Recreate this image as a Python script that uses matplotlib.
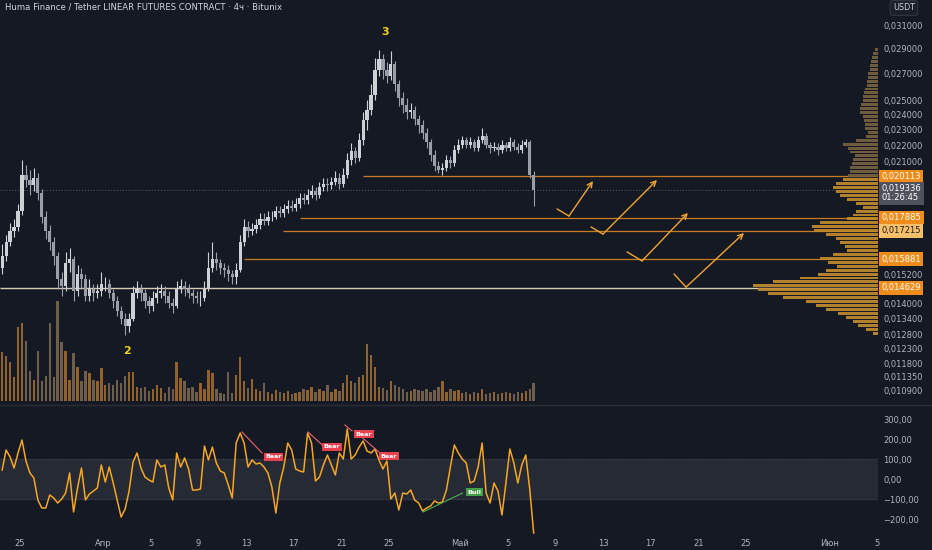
import numpy as np
import matplotlib
matplotlib.use("Agg")
import matplotlib.pyplot as plt
from matplotlib.ticker import NullLocator
from matplotlib.transforms import blended_transform_factory as btf

title = "Huma Finance / Tether LINEAR FUTURES CONTRACT · 4ч · Bitunix"

first_open = 0.0155
closes = [0.0160, 0.0167, 0.0172, 0.0174, 0.0182, 0.0202, 0.0199, 0.0196, 0.0200, 0.0192,
          0.0179, 0.0172, 0.0167, 0.0160, 0.0150, 0.0147, 0.0157, 0.0159, 0.0145, 0.0152,
          0.0150, 0.0143, 0.0146, 0.0144, 0.0145, 0.0148, 0.0148, 0.0144, 0.0141, 0.0137,
          0.0134, 0.0131, 0.0134, 0.0144, 0.0146, 0.0144, 0.0141, 0.0139, 0.0142, 0.0144,
          0.0145, 0.0143, 0.0140, 0.0139, 0.0146, 0.0147, 0.0146, 0.0144, 0.0143, 0.0142,
          0.0142, 0.0146, 0.0155, 0.0159, 0.0157, 0.0155, 0.0154, 0.0152, 0.0151, 0.0154,
          0.0167, 0.0174, 0.0172, 0.0173, 0.0175, 0.0178, 0.0177, 0.0179, 0.0179, 0.0182,
          0.0181, 0.0183, 0.0185, 0.0184, 0.0186, 0.0189, 0.0188, 0.0191, 0.0193, 0.0191,
          0.0195, 0.0197, 0.0196, 0.0198, 0.0200, 0.0197, 0.0202, 0.0211, 0.0216, 0.0212,
          0.0223, 0.0236, 0.0243, 0.0254, 0.0273, 0.0281, 0.0273, 0.0268, 0.0277, 0.0262,
          0.0252, 0.0247, 0.0242, 0.0243, 0.0237, 0.0233, 0.0228, 0.0222, 0.0214, 0.0207,
          0.0205, 0.0206, 0.0211, 0.0209, 0.0217, 0.0220, 0.0223, 0.0220, 0.0222, 0.0218,
          0.0223, 0.0226, 0.0220, 0.0218, 0.0219, 0.0217, 0.0220, 0.0218, 0.0222, 0.0219,
          0.0217, 0.0220, 0.0222, 0.0202, 0.019336]
highs = [0.0166, 0.0170, 0.0176, 0.0178, 0.0186, 0.0211, 0.0208, 0.0205, 0.0206, 0.0203,
         0.0194, 0.0182, 0.0175, 0.0169, 0.0162, 0.0153, 0.0162, 0.0164, 0.0160, 0.0156,
         0.0155, 0.0152, 0.0150, 0.0148, 0.0148, 0.0153, 0.0151, 0.0150, 0.0146, 0.0143,
         0.0139, 0.0136, 0.0136, 0.0147, 0.0149, 0.0148, 0.0146, 0.0143, 0.0145, 0.0147,
         0.0148, 0.0147, 0.0145, 0.0142, 0.0149, 0.0150, 0.0149, 0.0148, 0.0146, 0.0145,
         0.0145, 0.0149, 0.0162, 0.0167, 0.0162, 0.0159, 0.0157, 0.0156, 0.0154, 0.0157,
         0.0170, 0.0178, 0.0177, 0.0176, 0.0178, 0.0181, 0.0181, 0.0182, 0.0182, 0.0185,
         0.0185, 0.0186, 0.0188, 0.0188, 0.0189, 0.0192, 0.0192, 0.0194, 0.0196, 0.0195,
         0.0198, 0.0200, 0.0200, 0.0201, 0.0204, 0.0203, 0.0206, 0.0215, 0.0221, 0.0219,
         0.0228, 0.0242, 0.0250, 0.0262, 0.0282, 0.0289, 0.0285, 0.0279, 0.0288, 0.0280,
         0.0265, 0.0256, 0.0252, 0.0248, 0.0246, 0.0240, 0.0236, 0.0231, 0.0224, 0.0217,
         0.0210, 0.0209, 0.0214, 0.0213, 0.0220, 0.0224, 0.0226, 0.0225, 0.0225, 0.0224,
         0.0226, 0.0231, 0.0228, 0.0222, 0.0222, 0.0221, 0.0223, 0.0222, 0.0225, 0.0224,
         0.0221, 0.0223, 0.0224, 0.0223, 0.0204]
lows = [0.0152, 0.0158, 0.0165, 0.0169, 0.0172, 0.0180, 0.0195, 0.0191, 0.0193, 0.0188,
        0.0176, 0.0168, 0.0163, 0.0156, 0.0146, 0.0143, 0.0145, 0.0153, 0.0141, 0.0143,
        0.0146, 0.0141, 0.0141, 0.0141, 0.0142, 0.0143, 0.0145, 0.0142, 0.0138, 0.0135,
        0.0132, 0.0128, 0.0129, 0.0133, 0.0142, 0.0141, 0.0138, 0.0136, 0.0137, 0.0140,
        0.0142, 0.0140, 0.0138, 0.0136, 0.0138, 0.0144, 0.0143, 0.0142, 0.0140, 0.0140,
        0.0139, 0.0141, 0.0145, 0.0153, 0.0154, 0.0152, 0.0151, 0.0149, 0.0148, 0.0148,
        0.0153, 0.0165, 0.0169, 0.0170, 0.0171, 0.0173, 0.0175, 0.0175, 0.0177, 0.0178,
        0.0179, 0.0179, 0.0181, 0.0182, 0.0182, 0.0184, 0.0186, 0.0186, 0.0189, 0.0188,
        0.0189, 0.0193, 0.0193, 0.0194, 0.0196, 0.0194, 0.0195, 0.0200, 0.0208, 0.0209,
        0.0210, 0.0220, 0.0230, 0.0240, 0.0250, 0.0268, 0.0266, 0.0263, 0.0265, 0.0257,
        0.0246, 0.0241, 0.0237, 0.0238, 0.0233, 0.0228, 0.0224, 0.0218, 0.0210, 0.0204,
        0.0203, 0.0202, 0.0204, 0.0206, 0.0207, 0.0215, 0.0218, 0.0218, 0.0218, 0.0216,
        0.0216, 0.0221, 0.0218, 0.0215, 0.0216, 0.0214, 0.0215, 0.0216, 0.0216, 0.0217,
        0.0215, 0.0215, 0.0219, 0.0200, 0.0185]
volumes = [49, 45, 39, 24, 75, 79, 61, 30, 21, 50,
           20, 25, 79, 24, 101, 60, 51, 21, 48, 34,
           20, 30, 28, 21, 20, 33, 16, 18, 16, 21,
           18, 25, 29, 29, 14, 13, 14, 10, 12, 16,
           13, 8, 14, 12, 39, 23, 20, 13, 14, 9,
           18, 12, 31, 28, 12, 8, 7, 29, 8, 26,
           44, 20, 13, 22, 12, 10, 18, 9, 7, 11,
           9, 8, 10, 7, 8, 9, 12, 11, 14, 9,
           12, 10, 16, 9, 12, 10, 18, 26, 20, 18,
           24, 26, 58, 46, 34, 14, 13, 11, 20, 16,
           14, 12, 9, 10, 12, 11, 10, 12, 9, 11,
           14, 20, 9, 12, 10, 11, 8, 9, 7, 9,
           8, 12, 7, 8, 9, 7, 8, 9, 8, 7,
           9, 8, 10, 12, 18]
cci = [45, 145, 110, 55, 130, 195, 90, 30, 5, -105,
       -145, -145, -80, -95, -120, -100, -70, 30, -165, -45,
       55, -105, -75, -60, -45, 70, -15, 60, -20, -105,
       -190, -150, -60, 85, 130, 55, 10, -5, -15, 95,
       60, 70, -45, -105, 130, 60, 105, 50, -55, -55,
       -50, 165, 95, 160, 80, 40, 30, -30, -95, 180,
       230, 180, 60, 95, 75, 80, 60, 30, -40, -170,
       -20, 60, 180, 145, 50, 40, 35, 230, 180, -10,
       10, 70, 120, 70, 20, 130, 100, 250, 100, 120,
       160, 190, 140, 130, 150, 95, 50, 90, -100, -70,
       -155, -70, -75, -55, -105, -120, -160, -145, -135, -110,
       -120, -115, -55, 60, 170, 130, 100, 80, -20, -10,
       60, 180, -70, -120, -20, -60, -180, -20, 150, 80,
       -20, 70, 120, -50, -270]

price_ticks = [0.031, 0.029, 0.027, 0.025, 0.024, 0.023, 0.022, 0.021, 0.0152,
               0.014, 0.0134, 0.0128, 0.0123, 0.0118, 0.01135, 0.0109]
levels = [0.020113, 0.017885, 0.017215, 0.015881, 0.014629]
level_start = [28.8, 23.5, 22.1, 18.8, -1.7]
last_price = 0.019336
countdown = "01:26:45"

vp_volumes = [3, 5, 6, 7, 8, 8, 10, 10, 11, 11, 13, 14, 15, 15, 17, 18, 18, 15, 14, 13,
              13, 10, 12, 22, 35, 30, 28, 23, 25, 26, 28, 28, 30, 35, 42, 45, 42, 38, 31, 22,
              15, 22, 25, 31, 58, 66, 64, 52, 42, 38, 33, 31, 45, 58, 50, 41, 52, 60, 78, 105,
              125, 120, 110, 95, 72, 62, 52, 40, 32, 25, 20, 12, 5]
vp_high, vp_low = 0.0291, 0.0128

cci_ticks = [300, 200, 100, 0, -100, -200]
date_ticks = [0, 7, 11, 15, 19, 23, 27, 31, 37, 41, 45, 49, 53, 57, 61, 68, 72]
date_labels = ["25", "Апр", "5", "9", "13", "17", "21", "25", "Май", "5", "9", "13",
               "17", "21", "25", "Июн", "5"]

arrows = [[(45.13, 0.01833), (46.13, 0.01796), (48.15, 0.01985)],
          [(47.98, 0.01741), (48.99, 0.01706), (53.53, 0.01991)],
          [(51.01, 0.01621), (52.27, 0.01580), (56.13, 0.01812)],
          [(54.96, 0.01522), (55.97, 0.01466), (60.84, 0.01711)]]
waves = [("3", 30.7, 0.0304), ("2", 9.0, 0.0122)]
# (label, x0, cci0, x1, cci1, label_x, label_cci)
divergences = [("Bear", 18.66, 235, 20.34, 130, 21.3, 110),
               ("Bear", 24.2, 235, 25.4, 170, 26.2, 160),
               ("Bear", 27.3, 270, 27.9, 240, 28.9, 225),
               ("Bear", 28.8, 205, 30.25, 130, 31.0, 115),
               ("Bull", 33.87, -165, 37.2, -70, 38.2, -65)]

# ---------------------------------------------------------------
BG = "#151924"
TXT = "#b2b5be"
W, H = 932, 550
fig = plt.figure(figsize=(W / 100, H / 100), dpi=100, facecolor=BG)

def rect(x0, y0, x1, y1):
    return [x0 / W, 1 - y1 / H, (x1 - x0) / W, (y1 - y0) / H]

XL = (-20 / 11.9, (878 - 20) / 11.9)
YL = (0.010497, 0.03330)

ax = fig.add_axes(rect(0, 0, 878, 404))
axv = fig.add_axes(rect(0, 300, 878, 401), sharex=ax)
axp = fig.add_axes(rect(740, 0, 878, 404))
axc = fig.add_axes(rect(0, 405, 878, 536), sharex=ax)

for a in (ax, axv, axp, axc):
    a.set_facecolor("none")
    for s in a.spines.values():
        s.set_visible(False)
ax.set_facecolor(BG)
axc.set_facecolor(BG)
ax.set_zorder(1); axv.set_zorder(2); axp.set_zorder(3); axc.set_zorder(1)

t = -1.5 + np.arange(len(closes)) / 3.0
c = np.array(closes)
o = np.r_[first_open, c[:-1]]
hi = np.array(highs); lo = np.array(lows)
up = c >= o
candle_col = np.where(up, "#cdd0d6", "#9a9ea8")

# candles
ax.set_yscale("log")
ax.vlines(t, lo, hi, colors=candle_col, lw=0.8, zorder=3)
body_lo = np.minimum(o, c); body_hi = np.maximum(o, c)
ax.bar(t, body_hi - body_lo, bottom=body_lo, width=0.27,
       color=candle_col, zorder=4, linewidth=0)

# levels
for lv, st in zip(levels[:-1], level_start[:-1]):
    ax.hlines(lv, st, XL[1], colors="#c67a22", lw=0.9, zorder=2)
ax.hlines(levels[-1], level_start[-1], XL[1], colors="#d8cbb4", lw=1.0, zorder=2)
ax.hlines(last_price, XL[0], XL[1], colors="#5d606b", lw=0.7, linestyles=(0, (1, 2)), zorder=2)

# arrows
for a3 in arrows:
    (x0, y0), (x1, y1), (x2, y2) = a3
    ax.plot([x0, x1], [y0, y1], color="#f0a530", lw=1.0, zorder=5, solid_capstyle="round")
    ax.annotate("", xy=(x2, y2), xytext=(x1, y1),
                arrowprops=dict(arrowstyle="->", color="#f0a530", lw=1.0,
                                shrinkA=0, shrinkB=0, mutation_scale=9), zorder=5)

for lab, x, y in waves:
    ax.text(x, y, lab, color="#e8d21d", fontsize=8, fontweight="bold",
            ha="center", va="center", zorder=6)

ax.set_xlim(*XL)
ax.set_ylim(*YL)
ax.set_yticks(price_ticks, [f"{v:.6f}".replace(".", ",") for v in price_ticks])
ax.yaxis.set_minor_locator(NullLocator())
ax.yaxis.tick_right()
ax.tick_params(axis="y", length=0, pad=4, labelsize=6, labelcolor=TXT)
ax.tick_params(axis="x", bottom=False, labelbottom=False)

# boxed price labels
tr = btf(ax.transAxes, ax.transData)
box_specs = [(levels[0], "#f08d1a", "white"), (levels[1], "#f08d1a", "white"),
             (levels[2], "#f6c06a", "#1a1a1a"), (levels[3], "#f08d1a", "white"),
             (levels[4], "#f08d1a", "white")]
for v, fc, tc in box_specs:
    ax.text(1.004, v, f"{v:.6f}".replace(".", ","), transform=tr, fontsize=6, color=tc,
            ha="left", va="center", clip_on=False, zorder=10,
            bbox=dict(boxstyle="square,pad=0.28", fc=fc, ec="none"))
ax.text(1.004, last_price * 0.991, f"{last_price:.6f}".replace(".", ",") + "\n" + countdown,
        transform=tr, fontsize=6, color="white", ha="left", va="center", linespacing=1.0,
        clip_on=False, zorder=10, bbox=dict(boxstyle="square,pad=0.28", fc="#4f525c", ec="none"))

# volume
axv.bar(t, volumes, width=0.2, color=np.where(up, "#a8702e", "#7f6b52"), alpha=0.85, linewidth=0)
axv.set_ylim(0, 102)
axv.axis("off")

# volume profile
edges = np.geomspace(vp_high, vp_low, len(vp_volumes) + 1)
axp.set_yscale("log")
vp_col = np.where(edges[:-1] > 0.0201, "#7a6441", "#c58d2d")
axp.barh(edges[1:], vp_volumes, height=(edges[:-1] - edges[1:]) * 0.75, align="edge",
         color=vp_col, alpha=0.9, linewidth=0)
axp.set_ylim(*YL)
axp.set_xlim(138, 0)
axp.axis("off")

# CCI pane
axc.axhspan(-100, 100, color="#262a35", zorder=0)
axc.axhline(100, color="#4a4e59", lw=0.6, ls=(0, (1, 2)), zorder=1)
axc.axhline(-100, color="#4a4e59", lw=0.6, ls=(0, (1, 2)), zorder=1)
axc.plot(t, cci, color="#f5a623", lw=1.1, zorder=3)
for lab, x0, y0, x1, y1, lx, ly in divergences:
    col = "#f0606e" if lab == "Bear" else "#4caf50"
    fc = "#e8424f" if lab == "Bear" else "#43a047"
    axc.plot([x0, x1], [y0, y1], color=col, lw=0.8, zorder=4)
    axc.text(lx, ly, lab, fontsize=4.6, color="white", fontweight="bold", ha="center",
             va="center", zorder=5, bbox=dict(boxstyle="square,pad=0.25", fc=fc, ec="none"))
axc.set_ylim(-285, 370)
axc.set_yticks(cci_ticks, [f"{v:.2f}".replace(".", ",").replace("-", "\u2212") for v in cci_ticks])
axc.yaxis.tick_right()
axc.tick_params(axis="y", length=0, pad=4, labelsize=6, labelcolor=TXT)
axc.set_xticks(date_ticks, date_labels)
axc.tick_params(axis="x", length=0, pad=2.5, labelsize=6, labelcolor=TXT)
axc.set_xlim(*XL)

# pane separator
fig.add_artist(plt.Line2D([0, 1], [1 - 404.5 / H] * 2, color="#2a2e39", lw=1.0))

# title and currency box
fig.text(5 / W, 1 - 7 / H, title, fontsize=6.1, color="#d1d4dc", ha="left", va="center")
fig.text(904 / W, 1 - 8 / H, "USDT", fontsize=5.8, color="#d1d4dc", ha="center", va="center",
         bbox=dict(boxstyle="round,pad=0.35,rounding_size=0.3", fc="#1b1f2a", ec="#3a3e49", lw=0.6))

fig.savefig("out.png", dpi=100, facecolor=BG)
